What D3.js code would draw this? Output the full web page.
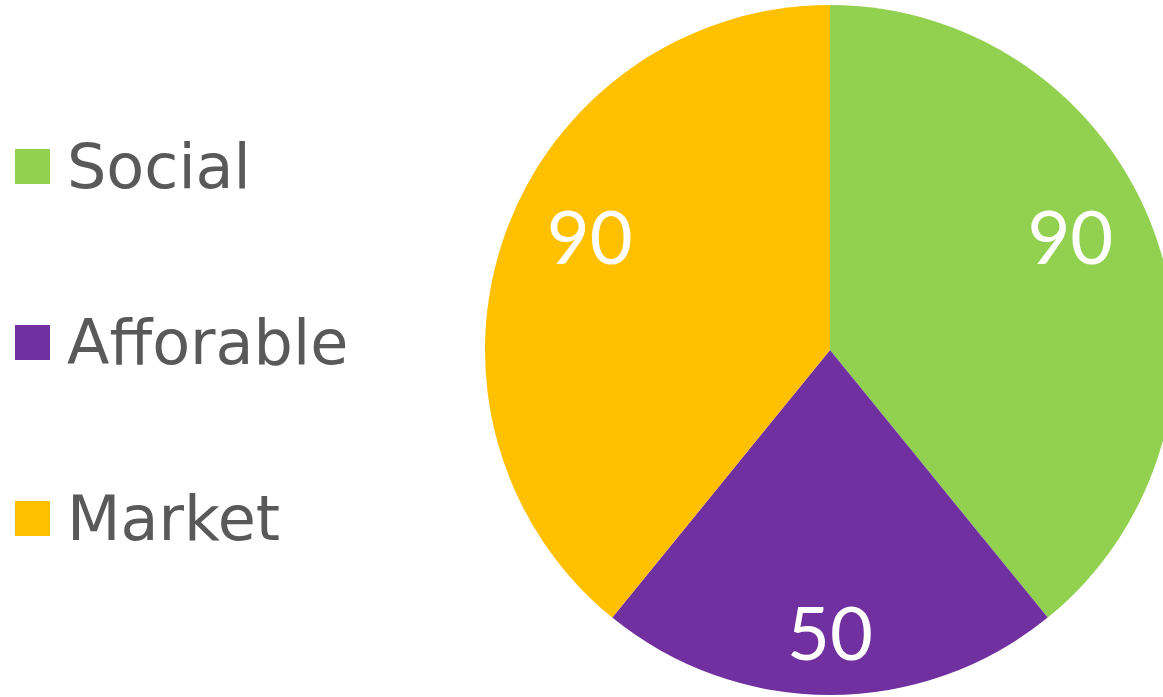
<!DOCTYPE html>
<html lang="en">
<head>
<meta charset="utf-8">
<title>Pie</title>
<script src="https://cdn.jsdelivr.net/npm/d3@7"></script>
<style>
  body { margin: 0; background: #fff; }
</style>
</head>
<body>
<script>
var w = 1163, h = 697;

var categories = ["Social", "Afforable", "Market"];
var values = [90, 50, 90];
var colors = ["#92D050", "#7030A0", "#FFC000"];

var cx = 830, cy = 350, radius = 345;

var svg = d3.select("body").append("svg")
    .attr("width", w)
    .attr("height", h);

var pie = d3.pie().sort(null).value(function(d) { return d; });
var arc = d3.arc().innerRadius(0).outerRadius(radius);

var g = svg.append("g").attr("transform", "translate(" + cx + "," + cy + ")");

g.selectAll("path")
    .data(pie(values))
    .enter().append("path")
    .attr("d", arc)
    .attr("fill", function(d, i) { return colors[i]; });

// labels sit a bit inside the rim, pulled toward the vertical axis
function labelPos(d) {
    var a = (d.startAngle + d.endAngle) / 2;
    var twoPi = Math.PI * 2;
    var target = Math.round(a / Math.PI) * Math.PI;   // nearest of 0, pi, 2pi
    var a2 = target + (a - target) * 0.92;
    var bottom = Math.abs(a - Math.PI) < 0.3;
    var r = radius * (bottom ? 0.82 : 0.77);
    return d3.pointRadial(a2 % twoPi, r);
}

g.selectAll("text")
    .data(pie(values))
    .enter().append("text")
    .attr("transform", function(d) {
        var p = labelPos(d);
        return "translate(" + p[0] + "," + p[1] + ")";
    })
    .attr("text-anchor", "middle")
    .attr("dy", "0.36em")
    .attr("font-family", "Lato, sans-serif")
    .attr("font-size", "74px")
    .attr("fill", "#fff")
    .text(function(d) { return d.value; });

// legend
var legendY = d3.scalePoint().domain(categories).range([166, 518]);

var legend = svg.selectAll(".legend")
    .data(categories)
    .enter().append("g")
    .attr("class", "legend")
    .attr("transform", function(d) { return "translate(15," + legendY(d) + ")"; });

legend.append("rect")
    .attr("x", 0)
    .attr("y", -17)
    .attr("width", 35)
    .attr("height", 35)
    .attr("fill", function(d, i) { return colors[i]; });

legend.append("text")
    .attr("x", 52)
    .attr("y", 22)
    .attr("font-family", "'DejaVu Sans', sans-serif")
    .attr("font-size", "62px")
    .attr("fill", "#595959")
    .text(function(d) { return d; });
</script>
</body>
</html>
